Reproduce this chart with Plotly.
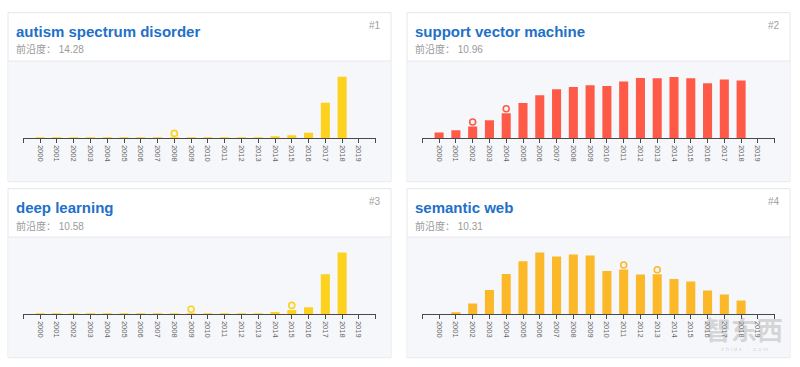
import plotly.graph_objects as go

W, H = 800, 367

years = list(range(2000, 2020))
year_labels = [str(y) for y in years]

titles = ["autism spectrum disorder", "support vector machine", "deep learning", "semantic web"]
scores = ["14.28", "10.96", "10.58", "10.31"]
ranks = ["#1", "#2", "#3", "#4"]

asd = [0.2, 0.2, 0.2, 0.2, 0.2, 0.2, 0.2, 0.2, 0.3, 0.3, 0.3, 0.3, 0.4, 0.6, 1.5, 3.0, 5.5, 35.5, 61.5, 0]
svm = [5.7, 8.0, 11.7, 18.0, 25.0, 35.3, 43.0, 49.0, 51.3, 53.0, 52.3, 56.7, 60.3, 60.0, 61.3, 60.0, 55.0, 58.7, 57.7, 0]
dl = [0.2, 0.2, 0.2, 0.2, 0.3, 0.3, 0.3, 0.3, 0.3, 0.4, 0.4, 0.4, 0.5, 1.0, 2.3, 4.3, 7.0, 40.0, 61.7, 0]
sw = [0, 2.0, 10.7, 24.3, 40.3, 53.0, 61.7, 57.7, 59.7, 58.7, 43.3, 44.7, 39.7, 40.0, 35.3, 32.7, 23.7, 19.7, 13.7, 0]
series = [asd, svm, dl, sw]

marked_years = [[2008], [2002, 2004], [2009, 2015], [2011, 2013]]

colors = ["#FCD21E", "#FF5A47", "#FCD21E", "#FBB829"]

# card boxes in pixels (x0, y0, x1, y1)
cards = [(8, 12.7, 391, 181.7), (407, 12.7, 790, 181.7),
         (8, 188.7, 391, 357.7), (407, 188.7, 790, 357.7)]

FONT = "Liberation Sans, Arial, Helvetica, sans-serif"
CJK = "Liberation Sans, Noto Sans CJK SC, sans-serif"

def fx(px):
    return px / W

def fy(py):
    return 1 - py / H

fig = go.Figure()
shapes = []
annotations = []
YR = 70.0
layout_axes = {}

for i in range(4):
    x0, y0, x1, y1 = cards[i]
    axis_py = y0 + 125.6
    hdr_py = y0 + 48.3
    # card
    shapes.append(dict(type="rect", xref="paper", yref="paper", x0=fx(x0), x1=fx(x1),
                       y0=fy(y1), y1=fy(y0), fillcolor="#FFFFFF",
                       line=dict(color="#E3E6EB", width=1), layer="below"))
    shapes.append(dict(type="rect", xref="paper", yref="paper", x0=fx(x0 + 0.5), x1=fx(x1 - 0.5),
                       y0=fy(y1 - 0.5), y1=fy(hdr_py), fillcolor="#F6F7FA",
                       line=dict(width=0), layer="below"))
    shapes.append(dict(type="line", xref="paper", yref="paper", x0=fx(x0), x1=fx(x1),
                       y0=fy(hdr_py), y1=fy(hdr_py), line=dict(color="#E6E8EC", width=1),
                       layer="below"))
    # texts
    annotations.append(dict(xref="paper", yref="paper", x=fx(x0 + 6), y=fy(y0 + 18.3),
                            xanchor="left", yanchor="middle", showarrow=False,
                            text="<b>%s</b>" % titles[i],
                            font=dict(family=FONT, size=15, color="#2270C9")))
    annotations.append(dict(xref="paper", yref="paper", x=fx(x0 + 6), y=fy(y0 + 36.8),
                            xanchor="left", yanchor="middle", showarrow=False,
                            text="前沿度： " + scores[i],
                            font=dict(family=CJK, size=10, color="#9A9A9A")))
    annotations.append(dict(xref="paper", yref="paper", x=fx(x1 - 8), y=fy(y0 + 12.8),
                            xanchor="right", yanchor="middle", showarrow=False,
                            text=ranks[i],
                            font=dict(family=FONT, size=10, color="#A0A0A0")))

    n = "" if i == 0 else str(i + 1)
    xa = "x" + n
    ya = "y" + n
    fig.add_trace(go.Bar(x=years, y=series[i], xaxis=xa, yaxis=ya, width=0.54,
                         marker=dict(color=colors[i], line=dict(width=0)),
                         showlegend=False, hoverinfo="x+y"))
    mv = [series[i][years.index(y)] + 4.6 for y in marked_years[i]]
    fig.add_trace(go.Scatter(x=marked_years[i], y=mv, xaxis=xa, yaxis=ya, mode="markers",
                             marker=dict(symbol="circle-open", size=6, color=colors[i],
                                         line=dict(width=1.6, color=colors[i])),
                             showlegend=False, hoverinfo="skip"))

    layout_axes["xaxis" + n] = dict(
        domain=[fx(x0 + 15), fx(x1 - 15)], anchor=ya, range=[1998.98, 2020.02],
        tickmode="array", tickvals=[1999] + years + [2020],
        ticktext=[""] + year_labels + [""],
        tickangle=90, tickfont=dict(family=FONT, size=7.5, color="#666666"),
        showline=True, linecolor="#4A4A4A", linewidth=1.3,
        ticks="outside", ticklen=4, tickcolor="#4A4A4A", tickwidth=1,
        showgrid=False, zeroline=False, fixedrange=True)
    layout_axes["yaxis" + n] = dict(
        domain=[fy(axis_py), fy(axis_py - YR)], anchor=xa, range=[0, YR],
        visible=False, showgrid=False, zeroline=False, fixedrange=True)

# faint watermark
annotations.append(dict(xref="paper", yref="paper", x=fx(744), y=fy(328), showarrow=False,
                        xanchor="center", yanchor="middle", text="<b>智东西</b>",
                        font=dict(family="Noto Sans CJK SC", size=26, color="rgba(150,150,150,0.35)")))
annotations.append(dict(xref="paper", yref="paper", x=fx(744), y=fy(349), showarrow=False,
                        xanchor="center", yanchor="middle", text="z h i d x   .   c o m",
                        font=dict(family=FONT, size=6, color="rgba(150,150,150,0.4)")))

fig.update_layout(width=W, height=H, margin=dict(l=0, r=0, t=0, b=0),
                  paper_bgcolor="#FFFFFF", plot_bgcolor="rgba(0,0,0,0)",
                  shapes=shapes, annotations=annotations, bargap=0.45,
                  **layout_axes)

fig.write_html("out.html", config={"displayModeBar": False},
               post_script="document.body.style.margin='0px';document.body.style.overflow='hidden';")
